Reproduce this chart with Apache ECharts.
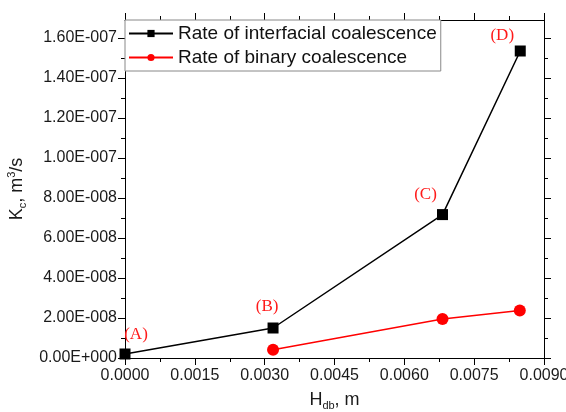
<!DOCTYPE html>
<html>
<head>
<meta charset="utf-8">
<script src="https://cdn.jsdelivr.net/npm/echarts@6/dist/echarts.min.js"></script>
<style>
html,body{margin:0;padding:0;background:#fff;}
#chart{width:566px;height:412px;}
</style>
</head>
<body>
<div id="chart"></div>
<script>
// ---- data ----
var seriesNames = ['Rate of interfacial coalescence', 'Rate of binary coalescence'];
var interfacialX = [0.0, 0.00318, 0.00682, 0.00849];
var interfacialY = [2.0e-9, 1.5e-8, 7.17e-8, 1.535e-7];
var binaryX = [0.00318, 0.00682, 0.00848];
var binaryY = [4.1e-9, 1.95e-8, 2.38e-8];
var pointLabels = ['(A)', '(B)', '(C)', '(D)'];
var xTicks = [0, 0.0015, 0.0030, 0.0045, 0.0060, 0.0075, 0.0090];
var yTicks = [0, 2e-8, 4e-8, 6e-8, 8e-8, 1e-7, 1.2e-7, 1.4e-7, 1.6e-7];
var yMax = 1.69e-7;

// ---- helpers ----
function sci(v) {
  if (Math.abs(v) < 1e-20) return '0.00E+000';
  var e = Math.floor(Math.log10(Math.abs(v)));
  var m = v / Math.pow(10, e);
  if (Math.abs(m) >= 9.995) { m /= 10; e++; }
  if (Math.abs(m) < 1) { m *= 10; e--; }
  return m.toFixed(2) + 'E' + (e < 0 ? '-' : '+') + String(Math.abs(e)).padStart(3, '0');
}
var yMinor = [];
for (var i = 0; i < yTicks.length; i++) {
  var next = i + 1 < yTicks.length ? yTicks[i + 1] : yMax;
  if (next - yTicks[i] > 1.5e-8) yMinor.push((yTicks[i] + next) / 2);
}
var labelOffsets = [[11, -19], [-6, -21], [-17, -20], [-18, -15]];

var FONT = 'Liberation Sans';
var axisLineStyle = { color: '#000', width: 1 };

function xAx(pos, showLabel) {
  return {
    type: 'value', position: pos,
    min: xTicks[0], max: xTicks[xTicks.length - 1],
    interval: xTicks[1] - xTicks[0],
    axisLine: { show: true, onZero: false, lineStyle: axisLineStyle },
    axisTick: { show: true, inside: false, length: 7, lineStyle: axisLineStyle },
    minorTick: { show: true, splitNumber: 2, length: 4, lineStyle: axisLineStyle },
    axisLabel: {
      show: showLabel, fontFamily: FONT, fontSize: 16, color: '#1a1a1a', margin: 10,
      formatter: function (v) { return v.toFixed(4); }
    },
    splitLine: { show: false }, minorSplitLine: { show: false }
  };
}
function yAx(pos, ticks, len, showLabel) {
  return {
    type: 'value', position: pos, min: 0, max: yMax,
    axisLine: { show: true, onZero: false, lineStyle: axisLineStyle },
    axisTick: { show: true, inside: false, length: len, customValues: ticks, lineStyle: axisLineStyle },
    axisLabel: {
      show: showLabel, customValues: yTicks, fontFamily: FONT, fontSize: 16, color: '#1a1a1a', margin: 8,
      formatter: function (v) { return sci(v); }
    },
    splitLine: { show: false }
  };
}

var xMain = xAx('bottom', true);
xMain.name = '{a|H}{sub|db}{a|, m}';
xMain.nameLocation = 'middle';
xMain.nameGap = 31;
xMain.nameTextStyle = {
  fontFamily: FONT, color: '#1a1a1a',
  rich: {
    a: { fontFamily: FONT, fontSize: 18, color: '#1a1a1a', lineHeight: 22 },
    sub: { fontFamily: FONT, fontSize: 11, color: '#1a1a1a', verticalAlign: 'bottom', lineHeight: 22 }
  }
};
var yMain = yAx('left', yTicks, 7, true);
yMain.name = '{a|K}{sub|c}{a|, m}{sup|3}{a|/s}';
yMain.nameLocation = 'middle';
yMain.nameGap = 92;
yMain.nameTextStyle = {
  fontFamily: FONT, color: '#1a1a1a',
  rich: {
    a: { fontFamily: FONT, fontSize: 18, color: '#1a1a1a', lineHeight: 22 },
    sub: { fontFamily: FONT, fontSize: 11, color: '#1a1a1a', verticalAlign: 'bottom', lineHeight: 22 },
    sup: { fontFamily: FONT, fontSize: 11, color: '#1a1a1a', verticalAlign: 'top', lineHeight: 22 }
  }
};

var interfacialData = interfacialX.map(function (x, i) {
  return {
    value: [x, interfacialY[i]],
    label: {
      show: true, position: 'inside', offset: labelOffsets[i],
      formatter: pointLabels[i],
      fontFamily: 'Liberation Serif', fontSize: 17, color: '#ff1a1a'
    }
  };
});
var binaryData = binaryX.map(function (x, i) { return [x, binaryY[i]]; });

var option = {
  backgroundColor: '#fff',
  animation: false,
  grid: { left: 125, right: 22, top: 20, bottom: 54, containLabel: false, outerBoundsMode: 'none' },
  legend: {
    orient: 'vertical', left: 125, top: 20,
    padding: [4, 4, 4, 3], itemGap: 5,
    itemWidth: 44, itemHeight: 9,
    borderColor: '#888', borderWidth: 1, backgroundColor: '#fff',
    textStyle: { fontFamily: FONT, fontSize: 19, color: '#111' },
    data: seriesNames
  },
  xAxis: [xMain, xAx('top', false)],
  yAxis: [yMain, yAx('left', yMinor, 4, false), yAx('right', yTicks, 7, false), yAx('right', yMinor, 4, false)],
  series: [
    {
      name: seriesNames[0], type: 'line', xAxisIndex: 0, yAxisIndex: 0,
      symbol: 'rect', symbolSize: 11,
      lineStyle: { color: '#000', width: 1.5 },
      itemStyle: { color: '#000' },
      data: interfacialData, z: 3
    },
    {
      name: seriesNames[1], type: 'line', xAxisIndex: 0, yAxisIndex: 0,
      symbol: 'circle', symbolSize: 12,
      lineStyle: { color: '#ff0000', width: 1.5 },
      itemStyle: { color: '#ff0000' },
      data: binaryData, z: 2
    }
  ]
};
var chart = echarts.init(document.getElementById('chart'), null, { renderer: 'canvas' });
chart.setOption(option);
</script>
</body>
</html>
